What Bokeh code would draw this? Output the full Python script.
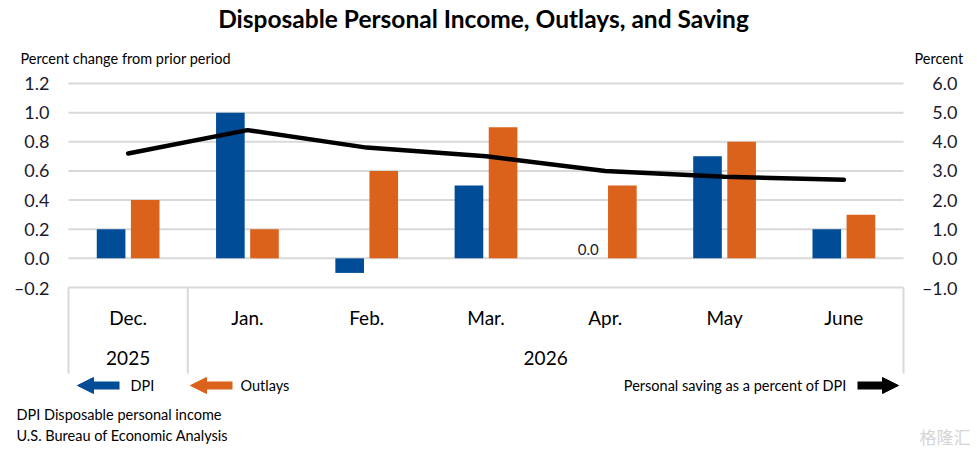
from bokeh.plotting import figure
from bokeh.models import Range1d, ColumnDataSource, Arrow, NormalHead
from bokeh.transform import dodge
from bokeh.core.properties import value
from bokeh.embed import file_html
from bokeh.resources import INLINE

# data
months = ["Dec.", "Jan.", "Feb.", "Mar.", "Apr.", "May", "June"]
years = ["2025", "2026"]
year_counts = [1, 6]
dpi = [0.2, 1.0, -0.1, 0.5, 0.0, 0.7, 0.2]
outlays = [0.4, 0.2, 0.6, 0.9, 0.5, 0.8, 0.3]
saving = [3.6, 4.4, 3.8, 3.5, 3.0, 2.8, 2.7]
left_ticks = [-0.2, 0.0, 0.2, 0.4, 0.6, 0.8, 1.0, 1.2]
right_ticks = [-1.0, 0.0, 1.0, 2.0, 3.0, 4.0, 5.0, 6.0]

BLUE = "#004C97"
ORANGE = "#DA621B"
TXT = "#1a1a2e"
GRID = "#d9d9d9"
FONT = "Lato"

# canvas geometry: the plotting frame covers the whole canvas so nothing gets clipped
W, H = 977, 453
FL, FR, FT = 68, 903, 83          # left / right / top of the chart area in pixels
SX = (FR - FL) / len(months)      # px per category
SY = 204 / 1.4                    # px per 1.0 on the left scale
RATIO = 5.0                       # right scale / left scale


def dx(px):
    return (px - FL) / SX


def dy(py):
    return left_ticks[-1] - (py - FT) / SY


def fmt(v):
    return ("\u2013" if v < 0 else "") + f"{abs(v):.1f}"


x = [i + 0.5 for i in range(len(months))]
src = ColumnDataSource(dict(x=x, month=months, dpi=dpi, outlays=outlays, saving=saving))

p = figure(width=W, height=H, x_range=Range1d(dx(0), dx(W)), y_range=Range1d(dy(H), dy(0)),
           output_backend="svg", toolbar_location=None, x_axis_location=None,
           y_axis_location=None, min_border=0, outline_line_color=None)
p.extra_y_ranges = {"saving": Range1d(dy(H) * RATIO, dy(0) * RATIO)}
p.grid.visible = False

# gridlines and left scale labels
n = len(left_ticks)
p.segment(x0=[0] * n, x1=[len(months)] * n, y0=left_ticks, y1=left_ticks,
          line_color=GRID, line_width=2)
p.text(x=[dx(49)] * n, y=left_ticks, text=[fmt(v) for v in left_ticks], text_align="right",
       text_baseline="middle", text_font=value(FONT), text_font_size="18px", text_color=TXT)
# right scale labels
p.text(x=[dx(957)] * len(right_ticks), y=right_ticks, text=[fmt(v) for v in right_ticks],
       y_range_name="saving", text_align="right", text_baseline="middle",
       text_font=value(FONT), text_font_size="18px", text_color=TXT)

# bars
p.vbar(x=dodge("x", -0.143), top="dpi", width=0.24, source=src, fill_color=BLUE,
       line_color=None)
p.vbar(x=dodge("x", 0.143), top="outlays", width=0.24, source=src, fill_color=ORANGE,
       line_color=None)

# zero value label
zx = [x[i] - 0.143 for i, v in enumerate(dpi) if v == 0]
p.text(x=zx, y=[0.0] * len(zx), text=["0.0"] * len(zx), text_align="center",
       text_baseline="bottom", y_offset=-3, text_font=value(FONT), text_font_size="15px",
       text_color=TXT)

# saving line on the right scale
p.line("x", "saving", source=src, y_range_name="saving", line_width=4.5, color="black",
       line_cap="round", line_join="round")

# category table
edges = [0]
for c in year_counts:
    edges.append(edges[-1] + c)
p.segment(x0=edges, x1=edges, y0=[left_ticks[0]] * len(edges), y1=[dy(373)] * len(edges),
          line_color=GRID, line_width=2)
p.text(x="x", y=dy(317), text="month", source=src, text_align="center", text_baseline="middle",
       text_font=value(FONT), text_font_size="19px", text_color="black")
yc = [(edges[i] + edges[i + 1]) / 2 for i in range(len(years))]
p.text(x=yc, y=[dy(357)] * len(yc), text=years, text_align="center", text_baseline="middle",
       text_font=value(FONT), text_font_size="19px", text_color="black")


def lab(px, py, text, size="14.5px", align="left", style="normal", color="black", font=FONT):
    p.text(x=[dx(px)], y=[dy(py)], text=[text], text_align=align, text_baseline="middle",
           text_font=value(font), text_font_size=size, text_font_style=style, text_color=color)


lab(483, 18, "Disposable Personal Income, Outlays, and Saving", size="24.5px", align="center",
    style="bold")
lab(20, 58, "Percent change from prior period")
lab(914, 58, "Percent")

# legend arrows
for x0, x1, c in [(119, 77, BLUE), (232, 190, ORANGE), (857, 898, "black")]:
    p.add_layout(Arrow(x_start=dx(x0), y_start=dy(385), x_end=dx(x1), y_end=dy(385),
                       line_width=8, line_color=c,
                       end=NormalHead(size=16, fill_color=c, line_color=c)))
lab(130, 385, "DPI")
lab(240, 385, "Outlays")
lab(846, 385, "Personal saving as a percent of DPI", align="right")

lab(16, 414, "DPI Disposable personal income")
lab(16, 435, "U.S. Bureau of Economic Analysis")
lab(970, 436, "格隆汇", size="17px", align="right", color="#d4d4d4", font="Noto Sans CJK SC")

open("out.html", "w").write(file_html(p, INLINE))
